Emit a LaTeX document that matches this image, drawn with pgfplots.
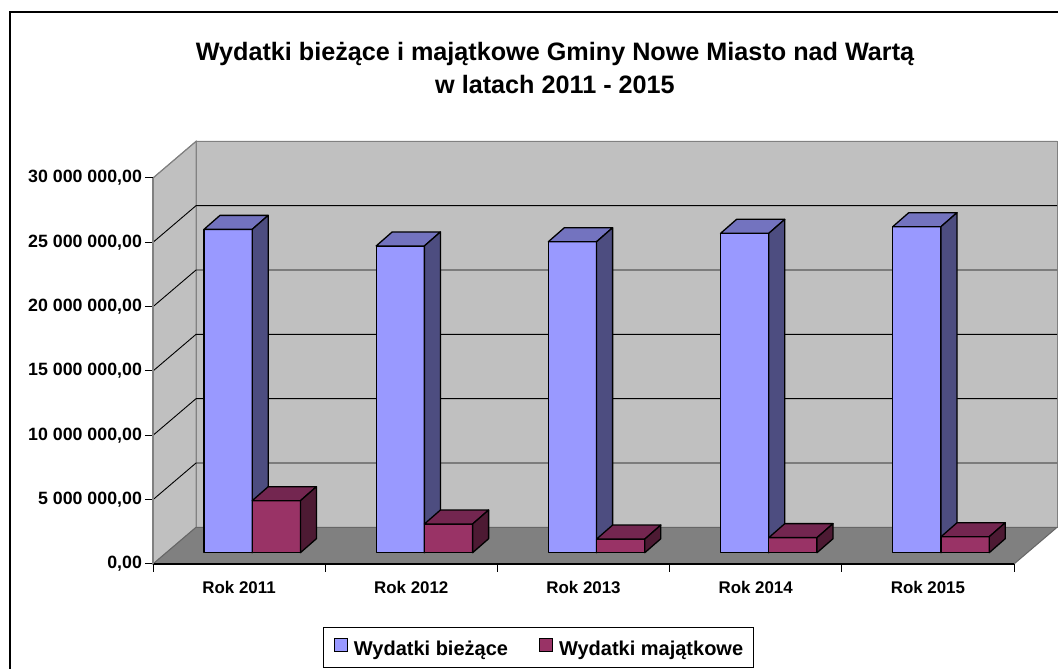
\documentclass[border=0pt]{standalone}
\usepackage{fontspec}
\setmainfont{Liberation Sans}
\usepackage{pgfplots}
\usepackage{pgfplotstable}
\pgfplotsset{compat=1.18}

\definecolor{bfront}{HTML}{9999FF}
\definecolor{btop}{HTML}{7373BF}
\definecolor{bside}{HTML}{4D4D80}
\definecolor{mfront}{HTML}{993366}
\definecolor{mtop}{HTML}{732650}
\definecolor{mside}{HTML}{4D1A33}
\definecolor{wall}{HTML}{C0C0C0}
\definecolor{floorc}{HTML}{808080}

% values in millions of zl
\pgfplotstableread{
rok biezace majatkowe
0 25.13 4.04
1 23.84 2.23
2 24.17 1.06
3 24.82 1.17
4 25.34 1.24
}\wydatki

\newcommand\drawbar[6]{%
  \pgfmathsetmacro\xa{#1-0.28+#2*0.28+0.076}%
  \pgfmathsetmacro\xb{\xa+0.28}%
  \pgfmathsetmacro\xc{\xa+0.093}%
  \pgfmathsetmacro\xd{\xb+0.093}%
  \pgfmathsetmacro\ya{0.878}%
  \pgfmathsetmacro\yb{0.878+#3}%
  \pgfmathsetmacro\yc{\ya+1.088}%
  \pgfmathsetmacro\yd{\yb+1.088}%
  \edef\tmp{%
    \noexpand\addplot[fill=#4,draw=black,line width=1.3pt,line join=round,forget plot] coordinates {(\xa,\ya) (\xb,\ya) (\xb,\yb) (\xa,\yb)} -- cycle;
    \noexpand\addplot[fill=#5,draw=black,line width=1.3pt,line join=round,forget plot] coordinates {(\xa,\yb) (\xb,\yb) (\xd,\yd) (\xc,\yd)} -- cycle;
    \noexpand\addplot[fill=#6,draw=black,line width=1.3pt,line join=round,forget plot] coordinates {(\xb,\ya) (\xd,\yc) (\xd,\yd) (\xb,\yb)} -- cycle;
  }\tmp
}

\begin{document}
\begin{tikzpicture}
\useasboundingbox (0,0) rectangle (1058pt,669pt);
\fill[white] (0,0) rectangle (1058pt,669pt);
\draw[line width=2pt] (9.5pt,-2pt) -- (9.5pt,657pt) -- (1062pt,657pt);

\node[anchor=base, font=\bfseries\fontsize{25.2}{30}\selectfont] at (555pt,608pt) {Wydatki bieżące i majątkowe Gminy Nowe Miasto nad Wartą};
\node[anchor=base, font=\bfseries\fontsize{25.2}{30}\selectfont] at (555pt,575.7pt) {w latach 2011 - 2015};

\begin{axis}[
  at={(153pt,105pt)}, anchor=south west,
  scale only axis, width=861pt, height=386pt,
  xmin=-0.5, xmax=4.5, ymin=0, ymax=30,
  clip=false, axis on top,
  axis lines=left, axis line style={-},
  x axis line style={black, line width=1.2pt},
  y axis line style={floorc, line width=1.2pt},
  xtick={-0.5,0.5,1.5,2.5,3.5,4.5}, x tick label as interval,
  xticklabels={Rok 2011,Rok 2012,Rok 2013,Rok 2014,Rok 2015},
  ytick={0,5,10,15,20,25,30},
  yticklabels={{0,00},{5 000 000,00},{10 000 000,00},{15 000 000,00},{20 000 000,00},{25 000 000,00},{30 000 000,00}},
  tick align=outside, major tick length=8pt,
  tick style={black, line width=1pt},
  yticklabel style={font=\bfseries\fontsize{17.8}{20}\selectfont, xshift=0.5pt},
  xticklabel style={font=\bfseries\fontsize{16.9}{20}\selectfont, yshift=-6pt},
  legend columns=2,
  legend style={at={(0.4478,-0.2163)}, anchor=center, draw=black, line width=1pt,
    font=\bfseries\fontsize{20}{24}\selectfont,
    nodes={inner sep=0pt},
    /tikz/every odd column/.append style={column sep=6pt},
    /tikz/every even column/.append style={column sep=31pt},
    inner xsep=10pt, inner ysep=11pt},
  legend image code/.code={\draw[#1,draw=black,line width=1pt] (0pt,-3pt) rectangle (13pt,10pt);},
]
\addlegendimage{fill=bfront}
\addlegendentry{Wydatki bieżące}
\addlegendimage{fill=mfront}
\addlegendentry{Wydatki majątkowe}

% walls and floor
\addplot[fill=wall, draw=floorc, line width=1pt, forget plot] coordinates {(-0.25,2.85) (4.75,2.85) (4.75,32.85) (-0.25,32.85)} -- cycle;
\addplot[fill=wall, draw=floorc, line width=1pt, forget plot] coordinates {(-0.5,0) (-0.25,2.85) (-0.25,32.85) (-0.5,30)} -- cycle;
\addplot[fill=floorc, draw=floorc!80!black, line width=1pt, forget plot] coordinates {(-0.5,0) (4.5,0) (4.75,2.85) (-0.25,2.85)} -- cycle;
% grid lines
\addplot[black, line width=0.9pt, forget plot] coordinates {(-0.5,5) (-0.25,7.85) (4.75,7.85)};
\addplot[black, line width=0.9pt, forget plot] coordinates {(-0.5,10) (-0.25,12.85) (4.75,12.85)};
\addplot[black, line width=0.9pt, forget plot] coordinates {(-0.5,15) (-0.25,17.85) (4.75,17.85)};
\addplot[black, line width=0.9pt, forget plot] coordinates {(-0.5,20) (-0.25,22.85) (4.75,22.85)};
\addplot[black, line width=0.9pt, forget plot] coordinates {(-0.5,25) (-0.25,27.85) (4.75,27.85)};
\addplot[floorc, line width=1pt, forget plot] coordinates {(-0.5,30) (-0.25,32.85) (4.75,32.85)};

\pgfplotsinvokeforeach{0,...,4}{
  \pgfplotstablegetelem{#1}{biezace}\of\wydatki \let\vA\pgfplotsretval
  \pgfplotstablegetelem{#1}{majatkowe}\of\wydatki \let\vB\pgfplotsretval
  \drawbar{#1}{0}{\vA}{bfront}{btop}{bside}
  \drawbar{#1}{1}{\vB}{mfront}{mtop}{mside}
}
\end{axis}
\end{tikzpicture}
\end{document}
